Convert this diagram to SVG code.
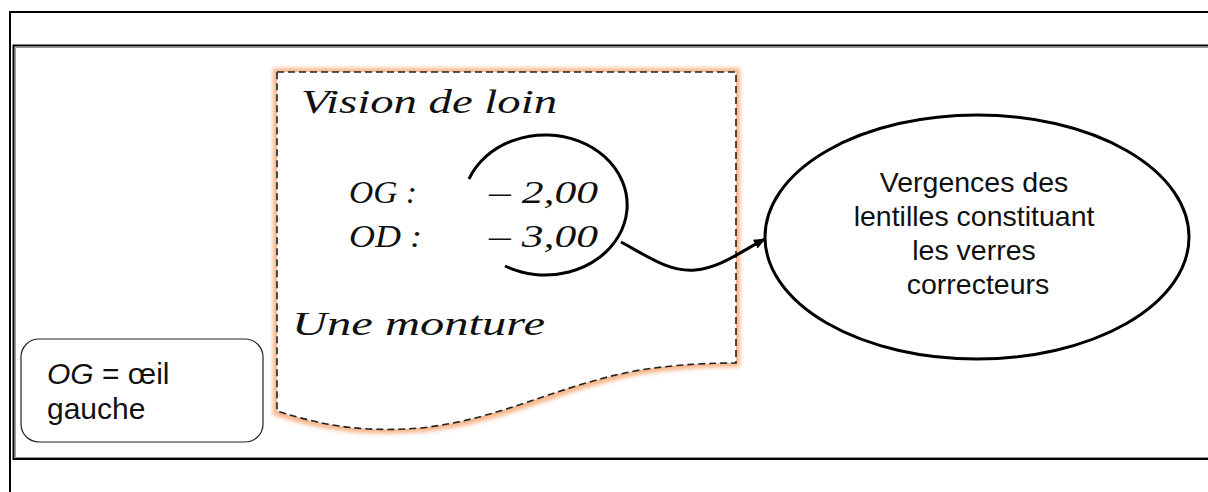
<svg xmlns="http://www.w3.org/2000/svg" width="1208" height="492" viewBox="0 0 1208 492">
<style>
.frame{fill:none;stroke:#000;stroke-width:2}
.script{font-family:"Liberation Serif","DejaVu Serif",serif;font-style:italic;fill:#111}
.sans{font-family:"Liberation Sans",Arial,sans-serif;fill:#111}
.conn{fill:none;stroke:#000;stroke-width:3}
</style>
<defs>
<filter id="glow" x="-10%" y="-10%" width="120%" height="120%">
<feMorphology in="SourceAlpha" operator="dilate" radius="4" result="d"/>
<feGaussianBlur in="d" stdDeviation="2.2" result="b"/>
<feFlood flood-color="#f7b488" flood-opacity="1"/>
<feComposite in2="b" operator="in" result="g"/>
<feMerge><feMergeNode in="g"/><feMergeNode in="SourceGraphic"/></feMerge>
</filter>
<marker id="arrow" viewBox="0 0 12 10" refX="11" refY="5" markerWidth="12" markerHeight="10" markerUnits="userSpaceOnUse" orient="auto">
<path d="M0,0 L12,5 L0,10 Z" fill="#000"/>
</marker>
</defs>
<rect width="1208" height="492" fill="#fff"/>
<g id="frames">
<path class="frame" d="M10,492 V12 H1208"/>
<path class="frame" d="M1208,45.5 H13.5 V459 H1208"/>
<path d="M1208,47.5 H15.5 V457.5 H1208" fill="none" stroke="#999" stroke-width="1"/>
</g>
<g id="prescription">
<path d="M277,72 H736 V363 C710,363 680,364 640,370 C560,384 500,420 420,428 C370,432 330,428 277,411 Z" fill="#fff" filter="url(#glow)"/>
<path d="M277,72 H736 V363 C710,363 680,364 640,370 C560,384 500,420 420,428 C370,432 330,428 277,411 Z" fill="none" stroke="#222" stroke-width="1.6" stroke-dasharray="7 4"/>
<text class="script" x="301" y="113" font-size="34" textLength="256" lengthAdjust="spacingAndGlyphs">Vision de loin</text>
<text class="script" x="349" y="203" font-size="31" textLength="68" lengthAdjust="spacingAndGlyphs">OG :</text>
<text class="script" x="489" y="203" font-size="31" textLength="109" lengthAdjust="spacingAndGlyphs">– 2,00</text>
<text class="script" x="349" y="247" font-size="31" textLength="73" lengthAdjust="spacingAndGlyphs">OD :</text>
<text class="script" x="489" y="247" font-size="31" textLength="109" lengthAdjust="spacingAndGlyphs">– 3,00</text>
<text class="script" x="292" y="335" font-size="34" textLength="253" lengthAdjust="spacingAndGlyphs">Une monture</text>
</g>
<g id="highlight">
<path d="M469,179 A82,70 0 1,1 505,266" fill="none" stroke="#000" stroke-width="3"/>
</g>
<g id="legend">
<rect x="21" y="339" width="242" height="103" rx="18" ry="18" fill="#fff" stroke="#222" stroke-width="1.2"/>
<text class="sans" x="47" y="384" font-size="30"><tspan font-style="italic">OG</tspan> = œil</text>
<text class="sans" x="47" y="419" font-size="30">gauche</text>
</g>
<g id="vergences">
<ellipse cx="977" cy="237" rx="212" ry="122" fill="#fff" stroke="#000" stroke-width="3"/>
<text class="sans" font-size="28.5" text-anchor="middle">
<tspan x="978" y="192">Vergences des</tspan>
<tspan x="978" y="226">lentilles constituant</tspan>
<tspan x="978" y="260">les verres</tspan>
<tspan x="978" y="294">correcteurs</tspan>
</text>
</g>
<g id="connectors">
<path class="conn" d="M621,242 C650,258 670,272 695,270 C720,268 740,252 765,239" marker-end="url(#arrow)"/>
</g>
</svg>
